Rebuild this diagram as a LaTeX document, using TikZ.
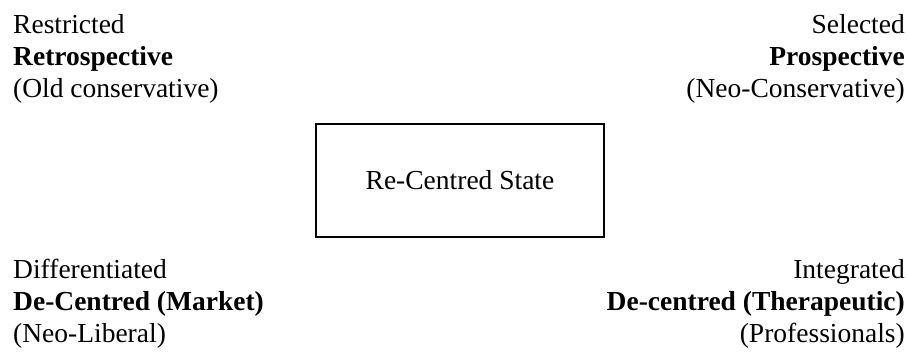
\documentclass[tikz,border=0pt]{standalone}
\usepackage{fontspec}
\setmainfont{Liberation Serif}

\begin{document}
\begin{tikzpicture}[x=1pt,y=1pt,every node/.style={font=\fontsize{27.5}{32}\selectfont,inner sep=0pt},box/.style={draw,line width=1.6pt,minimum width=288pt,minimum height=113pt},leftblock/.style={align=left,anchor=north west},rightblock/.style={align=right,anchor=north east}]
    \fill[white] (0,0) rectangle (908,354);
    \useasboundingbox (0,0) rectangle (908,354);
    \node[box] (state) at (460,173.5) {Re-Centred State};
    \node[leftblock] (retro) at (13,340) {Restricted\\ \textbf{Retrospective}\\ (Old conservative)};
    \node[rightblock] (pros) at (905,340) {Selected\\ \textbf{Prospective}\\ (Neo-Conservative)};
    \node[leftblock] (market) at (13,95) {Differentiated\\ \textbf{De-Centred (Market)}\\ (Neo-Liberal)};
    \node[rightblock] (thera) at (905,95) {Integrated\\ \textbf{De-centred (Therapeutic)}\\ (Professionals)};
  \end{tikzpicture}
\end{document}
